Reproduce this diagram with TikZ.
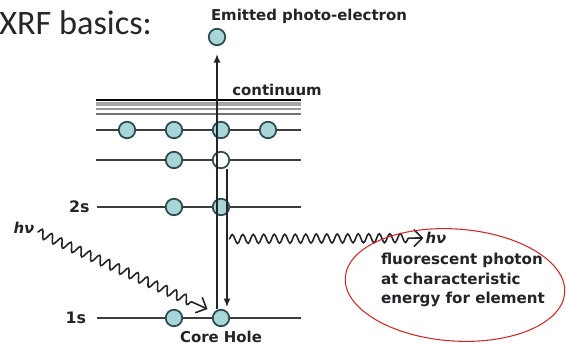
\documentclass[tikz,border=0pt]{standalone}
\usepackage{fontspec}
\setmainfont{DejaVu Sans}
\newfontfamily\titlefont{Carlito}
\usetikzlibrary{positioning,arrows.meta,shapes.geometric,decorations.pathmorphing}
\definecolor{elecfill}{RGB}{168,214,216}
\definecolor{elecline}{RGB}{45,75,78}
\definecolor{levelgray}{RGB}{60,60,60}
\definecolor{inkgray}{RGB}{35,35,40}
\definecolor{ringred}{RGB}{205,40,40}
\tikzset{
  electron/.style={circle, draw=elecline, line width=1pt, fill=elecfill, minimum size=0.33cm, inner sep=0pt},
  holebox/.style={circle, draw=elecline, line width=1pt, fill=white, minimum size=0.33cm, inner sep=0pt},
  level/.style={draw=levelgray, line width=0.75pt},
  jumparrow/.style={-{Latex[length=1.7mm,width=1.4mm]}, line width=0.75pt, draw=inkgray},
  wavy/.style={-{Straight Barb[length=1.7mm]}, line width=0.9pt, draw=inkgray,
    decorate, decoration={snake, segment length=0.21cm, amplitude=0.09cm, post length=0.28cm}},
  tag/.style={font=\fontsize{8.5}{10}\selectfont\bfseries, text=inkgray, inner sep=1pt},
  ring/.style={ellipse, draw=ringred, line width=0.6pt, minimum width=4.4cm, minimum height=2.24cm}
}
\begin{document}
\begin{tikzpicture}[x=0.02cm, y=-0.02cm, >=Latex, every node/.style={font=\small}]
  \useasboundingbox (0,0) rectangle (566,348);
  \node[anchor=west, inner sep=0pt, text=black!85, font=\titlefont\fontsize{19.5}{22}\selectfont] (title) at (-1,23) {XRF basics:};
  \draw[black, line width=1.2pt] (96,100) -- (301,100);
  \draw[gray!70, line width=2.4pt] (96,104) -- (301,104);
  \draw[gray!80, line width=0.8pt] (96,109) -- (301,109);
  \draw[gray!90!black, line width=0.9pt] (96,114) -- (301,114);
  \node[tag] (cont) at (277,90) {continuum};
  \coordinate (m3a) at (96,130);
  \coordinate (m3b) at (301,130);
  \coordinate (m2a) at (96,160);
  \coordinate (m2b) at (301,160);
  \coordinate (l1a) at (97,207);
  \coordinate (l1b) at (301,207);
  \coordinate (k1a) at (97,318);
  \coordinate (k1b) at (301,318);
  \draw[level] (m3a) -- (m3b);
  \draw[level] (m2a) -- (m2b);
  \draw[level] (l1a) -- (l1b);
  \draw[level] (k1a) -- (k1b);
  \node[tag, left=3pt of l1a, font=\fontsize{9}{10}\selectfont\bfseries] (lab2s) {2s};
  \node[tag, left=5pt of k1a, font=\fontsize{9}{10}\selectfont\bfseries] (lab1s) {1s};
  \node[electron] (m31) at (127,130) {};
  \node[electron] (m32) at (174,130) {};
  \node[electron] (m33) at (221,130) {};
  \node[electron] (m34) at (268,130) {};
  \node[electron] (m21) at (174,160) {};
  \node[holebox] (hole) at (221,160) {};
  \node[electron] (l11) at (174,207) {};
  \node[electron] (l12) at (221,207) {};
  \node[electron] (k11) at (174,318) {};
  \node[electron] (k12) at (221,318) {};
  \node[electron] (free) at (217,37) {};
  \node[tag] (freelab) at (309,16) {Emitted photo-electron};
  \node[tag, below=1pt of k12] (corelab) {Core Hole};
  \draw[jumparrow, shorten >=0.16cm] (k12.north -| free) -- (free.south);
  \draw[jumparrow] ([xshift=0.12cm]hole.south) -- ([shift={(0.12cm,0.22cm)}]k12.center);
  \node[tag, font=\fontsize{8.5}{10}\selectfont\bfseries\itshape] (hvin) at (24,228) {hν};
  \draw[wavy] ([shift={(0.02cm,-0.08cm)}]hvin.east) -- ([shift={(-0.27cm,0.18cm)}]k12.center);
  \coordinate (emit) at (229,239);
  \node[tag, font=\fontsize{8.5}{10}\selectfont\bfseries\itshape] (hvout) at (436,238) {hν};
  \draw[wavy] (emit) -- (hvout.west);
  \node[ring, rotate=-4] (ring) at (455,285) {};
  \node[tag, align=left, font=\fontsize{8.6}{11.3}\selectfont\bfseries] (note) at (463,280) {fluorescent photon\\at characteristic\\energy for element};
\end{tikzpicture}
\end{document}
